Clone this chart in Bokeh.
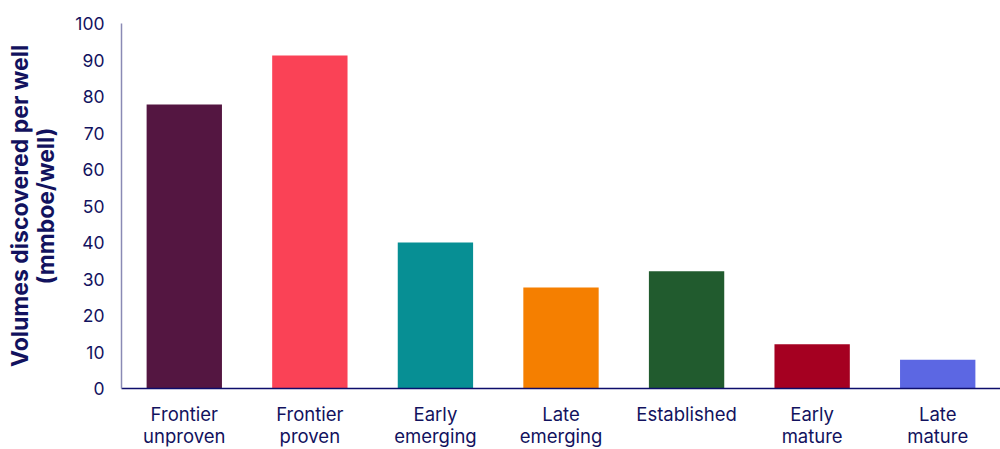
from bokeh.plotting import figure
from bokeh.models import Range1d, FactorRange
from bokeh.embed import file_html
from bokeh.resources import INLINE

categories = ["Frontier\nunproven", "Frontier\nproven", "Early\nemerging", "Late\nemerging",
              "Established", "Early\nmature", "Late\nmature"]
values = [77.8, 91.2, 40.0, 27.7, 32.1, 12.1, 7.9]
colors = ["#541641", "#FA4256", "#078F94", "#F57F00", "#215B2E", "#A50021", "#5C67E3"]
y_ticks = [0, 10, 20, 30, 40, 50, 60, 70, 80, 90, 100]

TEXT = "#12125E"
FONT = "Inter"

p = figure(width=1000, height=449, x_range=FactorRange(*categories), y_range=Range1d(0, 100),
           output_backend="svg", toolbar_location=None,
           min_border_left=121, min_border_right=0, min_border_top=23, min_border_bottom=61)
p.vbar(x=categories, top=values, width=0.6, color=colors, line_color=None)

p.outline_line_color = None
p.xgrid.grid_line_color = None
p.ygrid.grid_line_color = None
p.background_fill_color = "white"

p.yaxis.ticker = y_ticks
p.yaxis.axis_line_color = "#8A8AB5"
p.yaxis.axis_line_width = 1.5
p.yaxis.major_tick_line_color = None
p.yaxis.minor_tick_line_color = None
p.yaxis.major_label_standoff = 11
p.yaxis.major_label_text_font = FONT
p.yaxis.major_label_text_font_size = "17.5px"
p.yaxis.major_label_text_color = TEXT
p.yaxis.axis_label = "Volumes discovered per well\n(mmboe/well)"
p.yaxis.axis_label_text_font = FONT
p.yaxis.axis_label_text_font_size = "23px"
p.yaxis.axis_label_text_font_style = "bold"
p.yaxis.axis_label_text_color = TEXT
p.yaxis.axis_label_standoff = 12
p.yaxis.axis_label_text_line_height = 0.95

p.xaxis.axis_line_color = "#0D0D6B"
p.xaxis.axis_line_width = 1.5
p.xaxis.major_tick_line_color = None
p.xaxis.minor_tick_line_color = None
p.xaxis.major_label_standoff = 8
p.xaxis.major_label_text_font = FONT
p.xaxis.major_label_text_font_size = "18.5px"
p.xaxis.major_label_text_line_height = 1.0
p.xaxis.major_label_text_color = TEXT
p.xaxis.major_label_orientation = "horizontal"

open("out.html", "w").write(file_html(p, INLINE))
